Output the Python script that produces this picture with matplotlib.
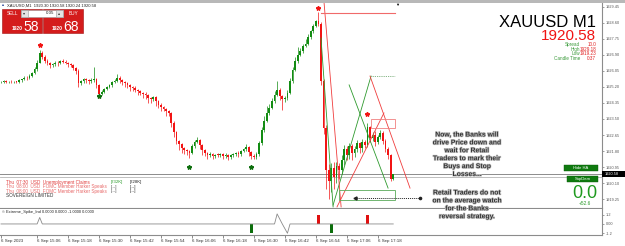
import numpy as np
import matplotlib
matplotlib.use("Agg")
import matplotlib.pyplot as plt
from matplotlib.patches import Rectangle
import matplotlib.patheffects as pe

plt.rcParams['font.family'] = ['Liberation Sans', 'DejaVu Sans']

# XAUUSD M1 bars, 6 Sep 2023 14:52 -> 17:24
first_open = 1925.45
closes = [
    1925.47, 1925.50, 1925.45, 1925.49, 1925.44, 1925.48, 1925.46, 1925.55, 1925.60, 1925.70,
    1925.66, 1925.80, 1925.95, 1926.15, 1926.50, 1927.00, 1926.80, 1926.60, 1926.45, 1926.35,
    1926.40, 1926.50, 1926.45, 1926.60, 1926.55, 1926.50, 1926.40, 1926.35, 1926.20, 1926.05,
    1925.40, 1925.50, 1925.60, 1925.55, 1925.50, 1925.55, 1925.60, 1925.30, 1924.85, 1924.95,
    1925.10, 1925.20, 1925.30, 1925.45, 1925.50, 1925.70, 1925.55, 1925.45, 1925.40, 1925.30,
    1925.20, 1925.15, 1925.05, 1924.98, 1924.90, 1924.85, 1924.75, 1924.60, 1924.55, 1924.65,
    1924.45, 1924.25, 1924.15, 1924.05, 1923.90, 1923.80, 1923.30, 1922.80, 1922.35, 1922.15,
    1921.95, 1921.85, 1921.80, 1921.70, 1922.05, 1922.30, 1922.40, 1922.10, 1921.85, 1921.70,
    1921.60, 1921.65, 1921.55, 1921.60, 1921.58, 1921.62, 1921.55, 1921.60, 1921.50, 1921.58,
    1921.62, 1921.70, 1921.65, 1921.80, 1921.90, 1922.00, 1921.75, 1921.55, 1921.50, 1921.65,
    1922.20, 1922.90, 1923.40, 1923.80, 1924.10, 1924.45, 1924.80, 1925.05, 1924.70, 1924.55,
    1924.60, 1924.90, 1925.50, 1926.10, 1926.60, 1926.90, 1927.10, 1927.40, 1927.50, 1927.85,
    1928.15, 1928.45, 1928.70, 1928.55, 1925.50, 1923.00, 1920.80, 1920.20, 1920.90, 1920.40,
    1921.00, 1920.80, 1921.30, 1921.90, 1921.60, 1922.05, 1921.70, 1921.90, 1922.20, 1921.95,
    1922.30, 1922.10, 1923.05, 1922.50, 1922.65, 1922.30, 1922.55, 1922.75, 1922.35, 1921.90,
    1921.60, 1920.30, 1920.58,
]
wick_up = [
    0.05, 0.06, 0.05, 0.04, 0.06, 0.05, 0.05, 0.06, 0.05, 0.08,
    0.06, 0.08, 0.07, 0.10, 0.12, 0.17, 0.10, 0.08, 0.10, 0.06,
    0.08, 0.06, 0.10, 0.05, 0.08, 0.06, 0.05, 0.08, 0.05, 0.06,
    0.10, 0.08, 0.06, 0.10, 0.05, 0.12, 0.65, 0.06, 0.05, 0.08,
    0.06, 0.05, 0.08, 0.06, 0.10, 0.20, 0.06, 0.05, 0.08, 0.05,
    0.06, 0.05, 0.08, 0.05, 0.06, 0.05, 0.08, 0.06, 0.05, 0.08,
    0.06, 0.05, 0.08, 0.05, 0.06, 0.06, 0.05, 0.08, 0.06, 0.05,
    0.08, 0.05, 0.06, 0.05, 0.10, 0.08, 0.15, 0.06, 0.05, 0.08,
    0.06, 0.08, 0.05, 0.06, 0.08, 0.05, 0.06, 0.08, 0.05, 0.06,
    0.08, 0.05, 0.10, 0.06, 0.08, 0.15, 0.06, 0.05, 0.08, 0.10,
    0.15, 0.20, 0.25, 0.40, 0.20, 0.15, 0.20, 0.45, 0.10, 0.08,
    0.10, 0.15, 0.20, 0.15, 0.20, 0.40, 0.15, 0.10, 0.25, 0.15,
    0.10, 0.12, 0.08, 0.48, 0.10, 0.15, 0.20, 0.30, 0.25, 0.30,
    0.20, 0.15, 0.30, 0.20, 0.15, 0.20, 0.10, 0.15, 0.20, 0.10,
    0.15, 0.10, 0.25, 0.10, 0.15, 0.20, 0.10, 0.15, 0.10, 0.08,
    0.10, 0.05, 0.00,
]
wick_dn = [
    0.05, 0.04, 0.06, 0.05, 0.05, 0.04, 0.06, 0.05, 0.06, 0.05,
    0.08, 0.05, 0.06, 0.05, 0.08, 0.05, 0.10, 0.12, 0.08, 0.15,
    0.10, 0.06, 0.12, 0.05, 0.08, 0.10, 0.12, 0.08, 0.10, 0.15,
    0.20, 0.10, 0.08, 0.12, 0.15, 0.08, 0.10, 0.15, 0.25, 0.10,
    0.08, 0.06, 0.05, 0.08, 0.06, 0.05, 0.15, 0.12, 0.20, 0.15,
    0.20, 0.15, 0.12, 0.20, 0.15, 0.25, 0.18, 0.25, 0.20, 0.10,
    0.25, 0.15, 0.20, 0.15, 0.25, 0.15, 0.20, 0.25, 0.20, 0.30,
    0.25, 0.20, 0.20, 0.25, 0.08, 0.10, 0.06, 0.20, 0.25, 0.15,
    0.20, 0.10, 0.15, 0.10, 0.12, 0.10, 0.15, 0.10, 0.20, 0.10,
    0.10, 0.08, 0.15, 0.10, 0.06, 0.08, 0.20, 0.15, 0.12, 0.10,
    0.10, 0.08, 0.10, 0.08, 0.10, 0.06, 0.08, 0.10, 0.20, 0.55,
    0.15, 0.10, 0.08, 0.10, 0.06, 0.10, 0.08, 0.10, 0.06, 0.08,
    0.08, 0.06, 0.08, 0.10, 0.20, 0.30, 1.00, 0.97, 0.60, 0.60,
    0.30, 0.50, 0.20, 0.25, 0.30, 0.20, 0.40, 0.20, 0.15, 0.25,
    0.20, 0.15, 0.10, 0.20, 0.15, 0.25, 0.15, 0.10, 0.20, 0.15,
    0.20, 0.10, 0.06,
]
last_open = 1920.30

time_ticks = [0, 14, 26, 38, 50, 62, 74, 86, 98, 110, 122, 134, 146]
time_labels = ['6 Sep 2023', '6 Sep 15:06', '6 Sep 15:18', '6 Sep 15:30', '6 Sep 15:42',
               '6 Sep 15:54', '6 Sep 16:06', '6 Sep 16:18', '6 Sep 16:30', '6 Sep 16:42',
               '6 Sep 16:54', '6 Sep 17:06', '6 Sep 17:18']
price_ticks = [1929.45, 1928.60, 1927.75, 1926.90, 1926.05, 1925.20, 1924.35,
               1923.50, 1922.65, 1921.80, 1920.95, 1920.10, 1919.25]
bid = 1920.58

# signal stars (bar, price)
sell_star_x = [15, 123, 142]
sell_star_y = [1927.43, 1929.40, 1923.77]
buy_star_x = [38, 73, 97]
buy_star_y = [1924.72, 1920.95, 1920.95]

# drawn objects on the chart (bar index, price)
green_lines = [((124.0, 1927.80), (128.7, 1918.83)),
               ((128.7, 1918.93), (143.4, 1925.78)),
               ((134.9, 1925.31), (150.0, 1919.83))]
red_lines = [((143.0, 1925.78), (158.5, 1919.83)),
             ((130.2, 1918.83), (148.4, 1923.82)),
             ((125.2, 1929.66), (131.8, 1918.83))]
high_line = (124.0, 152.7, 1929.13)
swing_line = (143.4, 152.7, 1925.78)
red_box = (143.4, 152.7, 1923.02, 1923.50)
green_box = (131.0, 152.7, 1919.20, 1919.73)
range_arrow = (137.2, 162.4, 1919.30)

# Extreme_Spike_Ind
ind_line = {14: 0.0, 15: 0.84, 16: 0.0, 106: 0.0, 107: 1.3, 108: 0.65, 109: 0.0,
            110: -0.6, 111: -1.2, 112: 0.0}
ind_up_bars = [123, 142]
ind_dn_bars = [97, 128]

GREEN = '#138c13'
RED = '#f21414'

W, H = 625, 246
def fx(x): return x / W
def fy(y): return 1 - y / H

fig = plt.figure(figsize=(6.25, 2.46), dpi=100)
fig.patch.set_facecolor('white')

ax = fig.add_axes([0, fy(207.5), 602 / W, (207.5 - 3) / H])
ax2 = fig.add_axes([0, fy(235), 602 / W, (235 - 208.5) / H])
xl = (-0.39, 232.9)

# candles
n = len(closes)
idx = np.arange(n)
c = np.array(closes)
o = np.r_[first_open, c[:-1]]
o[-1] = last_open
hi = np.maximum(o, c) + np.array(wick_up)
lo = np.minimum(o, c) - np.array(wick_dn)
col = np.where(c >= o, GREEN, RED)
ax.vlines(idx, lo, hi, colors=col, lw=0.5, zorder=2)
body = np.where(np.abs(c - o) < 0.03, 0.03, c - o)
ax.bar(idx, body, bottom=o, width=0.68, color=col, lw=0, zorder=3)

for (a, b) in green_lines:
    ax.plot([a[0], b[0]], [a[1], b[1]], color='#2e9a2e', lw=0.6, zorder=4)
for (a, b) in red_lines:
    ax.plot([a[0], b[0]], [a[1], b[1]], color='#f03c3c', lw=0.6, zorder=4)
ax.plot(high_line[:2], [high_line[2]] * 2, color='#f06a6a', lw=0.8, zorder=4)
ax.plot(swing_line[:2], [swing_line[2]] * 2, color='#5a9a5a', lw=0.6, ls=(0, (1, 1.2)), zorder=4)
ax.add_patch(Rectangle((red_box[0], red_box[2]), red_box[1] - red_box[0], red_box[3] - red_box[2],
                       fill=False, ec='#f08080', lw=0.6, zorder=4))
ax.add_patch(Rectangle((green_box[0], green_box[2]), green_box[1] - green_box[0],
                       green_box[3] - green_box[2], fill=False, ec='#5aaa5a', lw=0.6, zorder=4))
ax.plot(range_arrow[:2], [range_arrow[2]] * 2, color='#222', lw=0.7, ls=(0, (1, 1)), zorder=5)
ax.plot([range_arrow[0]], [range_arrow[2]], marker='<', ms=2.2, color='#222', zorder=5)
ax.plot([range_arrow[1]], [range_arrow[2]], marker='o', ms=1.6, color='#222', zorder=5)

ax.plot(sell_star_x, sell_star_y, ls='none', marker='*', ms=3.2, color=RED, zorder=5)
ax.plot(buy_star_x, buy_star_y, ls='none', marker='*', ms=3.2, color='#0d6e0d', zorder=5)

ax.axhline(bid, color='#8c8c8c', lw=0.7, zorder=1)
ax.axhline(bid - 0.17, color='#b4b4b4', lw=0.6, zorder=1)

ax.set_xlim(*xl)
ax.set_ylim(1918.80, 1929.66)
ax.yaxis.tick_right()
ax.set_yticks(price_ticks)
ax.set_yticklabels([f'{p:.2f}' for p in price_ticks])
ax.tick_params(axis='y', labelsize=2.8, length=1.5, width=0.4, pad=1.5, colors='#555555')
ax.tick_params(axis='x', bottom=False, labelbottom=False)
for s in ['top', 'left']:
    ax.spines[s].set_visible(False)
for s in ['right', 'bottom']:
    ax.spines[s].set_color('#8c8c8c')
    ax.spines[s].set_linewidth(0.8)

# indicator window
ind = np.zeros(n)
for k, v in ind_line.items():
    ind[k] = v
ax2.plot(idx, ind, color='#8a8a8a', lw=0.6)
ax2.bar(ind_up_bars, [1.2] * len(ind_up_bars), width=1.3, color='#e01010', lw=0)
ax2.bar(ind_dn_bars, [-1.2] * len(ind_dn_bars), width=1.3, color='#0b6e0b', lw=0)
ax2.set_xlim(*xl)
ax2.set_ylim(-1.43, 2.0)
ax2.yaxis.tick_right()
ax2.set_yticks([1.2, 0.0, -1.2])
ax2.set_yticklabels(['1.2', '0.00', '-1.2'])
ax2.tick_params(axis='y', labelsize=2.8, length=1.5, width=0.4, pad=1.5, colors='#555555')
ax2.set_xticks(time_ticks)
ax2.set_xticklabels(time_labels, ha='left')
ax2.tick_params(axis='x', labelsize=3.2, length=2, width=0.4, pad=1.2, colors='#333333')
for s in ['top', 'left']:
    ax2.spines[s].set_visible(False)
for s in ['right', 'bottom']:
    ax2.spines[s].set_color('#8c8c8c')
    ax2.spines[s].set_linewidth(0.8)
ax2.text(0.004, 0.86, '\u00a9 Extreme_Spike_Ind 0.0000 0.0000 -1.0000 0.0000',
         transform=ax2.transAxes, fontsize=2.9, color='#222', va='center')

# top strip and header
fig.add_artist(Rectangle((0, fy(3)), 1, 3 / H, transform=fig.transFigure, color='#b8b8b8', lw=0))
fig.text(fx(2), fy(5.5), '\u25a0', fontsize=2.5, color='#3050a0', va='center')
fig.text(fx(7), fy(5.5), 'XAUUSD,M1  1920.30 1920.58 1920.24 1920.58', fontsize=3.0,
         color='#222', va='center')
fig.text(fx(397), fy(4.5), '\u25bc', fontsize=3, color='black', ha='center', va='center')

# one-click trading panel
for x0 in (2, 43):
    fig.add_artist(Rectangle((fx(x0), fy(33)), 40 / W, 24 / H, transform=fig.transFigure,
                             fc='#d41c1c', ec='#a01010', lw=0.4))
fig.add_artist(Rectangle((fx(21), fy(17)), 42 / W, 7 / H, transform=fig.transFigure,
                         fc='white', ec='#9a9a9a', lw=0.4))
for x0 in (21, 56):
    fig.add_artist(Rectangle((fx(x0), fy(17)), 7 / W, 7 / H, transform=fig.transFigure,
                             fc='#e4e4e4', ec='#9a9a9a', lw=0.4))
fig.text(fx(24.5), fy(13.5), '\u25be', fontsize=3, ha='center', va='center', color='#333')
fig.text(fx(59.5), fy(13.5), '\u25b4', fontsize=3, ha='center', va='center', color='#333')
fig.text(fx(54), fy(13.5), '0.05', fontsize=3.2, ha='right', va='center', color='#222')
fig.text(fx(7), fy(13.5), 'SELL', fontsize=3.4, va='center', color='white')
fig.text(fx(69), fy(13.5), 'BUY', fontsize=3.4, va='center', color='white')
fig.text(fx(12), fy(30), '1920', fontsize=3.6, color='white', fontweight='bold')
fig.text(fx(23), fy(31), '58', fontsize=10, color='white')
fig.text(fx(52), fy(30), '1920', fontsize=3.6, color='white', fontweight='bold')
fig.text(fx(63), fy(31), '68', fontsize=10, color='white')

# symbol info (top right)
fig.text(fx(596), fy(27), 'XAUUSD M1', fontsize=12, ha='right', color='black')
fig.text(fx(596), fy(40.5), '1920.58', fontsize=11, ha='right', color='#f01414')
info = [('Spread', '10.0'), ('High', '1929.18'), ('Low', '1919.23'), ('Candle Time', '0:37')]
for k, (lab, val) in enumerate(info):
    yy = 44.5 + k * 4.6
    fig.text(fx(580), fy(yy), lab, fontsize=3.3, ha='right', va='center', color='#3a9a3a')
    fig.text(fx(596), fy(yy), val, fontsize=3.3, ha='right', va='center', color='#e02020')

# bid label on price scale
fig.add_artist(Rectangle((fx(602), fy(177)), 23 / W, 6.5 / H, transform=fig.transFigure,
                         color='black', lw=0))
fig.text(fx(605), fy(173.8), '1920.58', fontsize=2.8, color='white', va='center')

# news block
news = [('Thu  07:30  USD  Unemployment Claims', '#e03a3a', '[232K]', '#2a9a2a', '[228K]'),
        ('Thu  08:00  USD  FOMC Member Harker Speaks', '#e86a6a', '[---]', '#444', '[---]'),
        ('Thu  08:00  USD  FOMC Member Harker Speaks', '#e86a6a', '[---]', '#444', '[---]')]
for k, (t, tc, a1, ac, a2) in enumerate(news):
    yy = 182.5 + k * 4.4
    fig.text(fx(6), fy(yy), t, fontsize=3.3, color=tc, va='center')
    fig.text(fx(111), fy(yy), a1, fontsize=3.1, color=ac, va='center')
    fig.text(fx(130), fy(yy), a2, fontsize=3.1, color='#222', va='center')
fig.text(fx(6), fy(195.5), 'SOVEREIGN LIMITED', fontsize=3.3, color='#333', va='center')

# buttons and profit box on the right
for (x0, y0, lab) in [(564, 165, 'Hide HA'), (567, 176, 'SupDem')]:
    fig.add_artist(Rectangle((fx(x0), fy(y0 + 6)), (598 - x0) / W, 6 / H,
                             transform=fig.transFigure, fc='#0f7a0f', ec='#0a5a0a', lw=0.3))
    fig.text(fx((x0 + 598) / 2), fy(y0 + 3), lab, fontsize=3.0, color='white',
             ha='center', va='center')
fig.text(fx(597), fy(198.5), '0.0', fontsize=13, ha='right', color='#1f9a1f')
fig.text(fx(585), fy(203.5), '+52.6', fontsize=3.4, ha='center', va='center', color='#2a9a2a')

# commentary text
note1 = ['Now, the Banks will', 'drive Price down and', 'wait for Retail',
         'Traders to mark their', 'Buys and Stop', 'Losses...']
note2 = ['Retail Traders do not', 'on the average watch', 'for the Banks',
         'reversal strategy.']
fx_eff = [pe.withStroke(linewidth=1.0, foreground='#c4c4c4')]
for lines, y0 in ((note1, 135), (note2, 193)):
    for k, t in enumerate(lines):
        fig.text(fx(467), fy(y0 + k * 7.9), t, fontsize=4.9, fontweight='bold',
                 color='#333333', ha='center', va='center', path_effects=fx_eff, zorder=10)

fig.savefig('out.png', dpi=100, facecolor='white')
